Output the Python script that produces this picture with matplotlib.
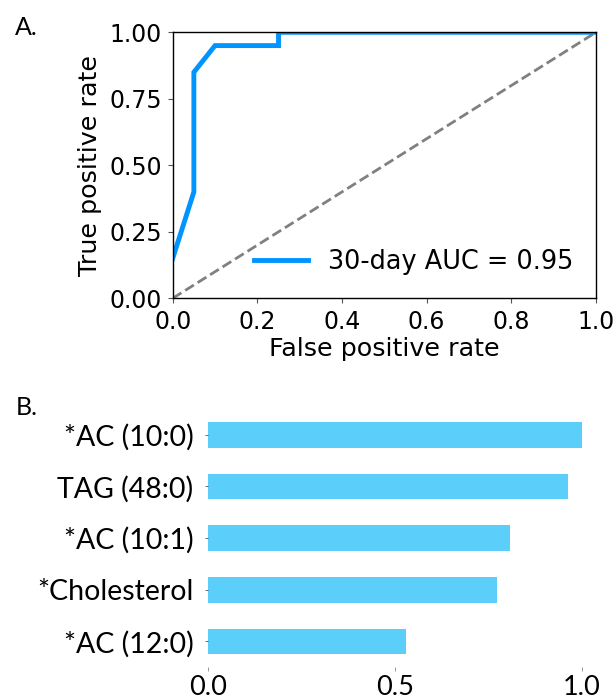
import matplotlib
matplotlib.use("Agg")
import matplotlib.pyplot as plt

# ROC data
fpr = [0.0, 0.05, 0.05, 0.10, 0.25, 0.25, 1.0]
tpr = [0.15, 0.40, 0.85, 0.95, 0.95, 1.0, 1.0]
roc_label = "30-day AUC = 0.95"
xticks_a = [0.0, 0.2, 0.4, 0.6, 0.8, 1.0]
yticks_a = [0.00, 0.25, 0.50, 0.75, 1.00]

# Feature importance data (top to bottom)
features = ["*AC (10:0)", "TAG (48:0)", "*AC (10:1)", "*Cholesterol", "*AC (12:0)"]
importance = [1.0, 0.963, 0.809, 0.774, 0.531]
xticks_b = [0.0, 0.5, 1.0]

W, H = 613, 699
fig = plt.figure(figsize=(W / 100, H / 100), dpi=100)

# Panel A
axA = fig.add_axes([172.7 / W, 1 - 298.3 / H, (596 - 172.7) / W, (298.3 - 32.3) / H])
axA.plot([0, 1], [0, 1], linestyle="--", color="#808080", lw=2)
axA.plot(fpr, tpr, color="#0094FF", lw=3.5, label=roc_label, solid_joinstyle="miter")
axA.set_xlim(0, 1)
axA.set_ylim(0, 1)
axA.set_xticks(xticks_a)
axA.set_yticks(yticks_a)
axA.set_xticklabels([f"{v:.1f}" for v in xticks_a], fontsize=17, family="DejaVu Sans")
axA.set_yticklabels([f"{v:.2f}" for v in yticks_a], fontsize=17, family="DejaVu Sans")
axA.tick_params(length=3.5, width=0.8, color="#555555")
axA.tick_params(axis="x", pad=5)
axA.tick_params(axis="y", pad=4.2)
axA.set_xlabel("False positive rate", fontsize=18.3, family="DejaVu Sans", labelpad=2)
axA.set_ylabel("True positive rate", fontsize=18.3, family="DejaVu Sans", labelpad=5)
for s in axA.spines.values():
    s.set_linewidth(1.0)
axA.legend(loc="lower right", frameon=False, prop={"family": "DejaVu Sans", "size": 18.4},
           handlelength=2.15, handletextpad=0.75)

# Panel B
ax_w = 374.4 * 1.05
axB = fig.add_axes([207.6 / W, 1 - 667.3 / H, ax_w / W, (667.3 - 409) / H])
ypos = list(range(len(features)))
axB.barh(ypos, importance, height=0.5, color="#5BCEFA")
axB.set_ylim(len(features) - 0.5, -0.5)
axB.set_xlim(0, 1.05)
axB.set_yticks(ypos)
axB.set_yticklabels(features, fontsize=20.5, family="Lato")
axB.set_xticks(xticks_b)
axB.set_xticklabels([f"{v:.1f}" for v in xticks_b], fontsize=19.5, family="Lato")
axB.tick_params(axis="y", length=2.2, width=0.6, color="#555555", pad=8)
axB.tick_params(axis="x", length=3.2, width=0.6, color="#888888", pad=2.5)
for s in axB.spines.values():
    s.set_visible(False)

fig.text(15 / W, 1 - 35 / H, "A.", fontsize=18, family="Lato", ha="left", va="baseline")
fig.text(16 / W, 1 - 415 / H, "B.", fontsize=18, family="Lato", ha="left", va="baseline")

fig.savefig("out.png", dpi=100)
